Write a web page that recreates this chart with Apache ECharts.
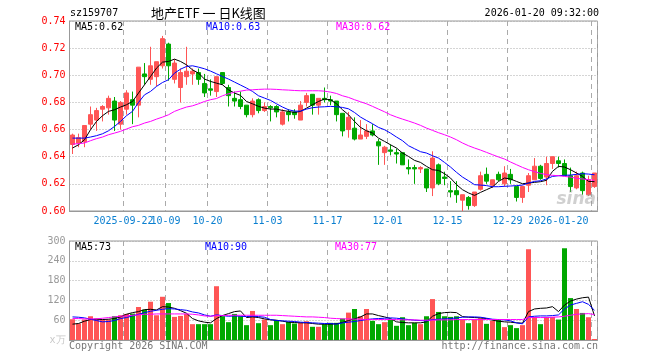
<!DOCTYPE html>
<html><head><meta charset="utf-8">
<script src="https://cdn.jsdelivr.net/npm/echarts@6/dist/echarts.min.js"></script>
<style>html,body{margin:0;padding:0;background:#fff}#c{width:660px;height:360px}</style>
</head><body><div id="c"></div>
<script>
// ---- data ----
const dates = [
 '2025-09-09','2025-09-10','2025-09-11','2025-09-12','2025-09-15','2025-09-16','2025-09-17','2025-09-18','2025-09-19','2025-09-22',
 '2025-09-23','2025-09-24','2025-09-25','2025-09-26','2025-09-29','2025-09-30','2025-10-09','2025-10-10','2025-10-13','2025-10-14',
 '2025-10-15','2025-10-16','2025-10-17','2025-10-20','2025-10-21','2025-10-22','2025-10-23','2025-10-24','2025-10-27','2025-10-28',
 '2025-10-29','2025-10-30','2025-10-31','2025-11-03','2025-11-04','2025-11-05','2025-11-06','2025-11-07','2025-11-10','2025-11-11',
 '2025-11-12','2025-11-13','2025-11-14','2025-11-17','2025-11-18','2025-11-19','2025-11-20','2025-11-21','2025-11-24','2025-11-25',
 '2025-11-26','2025-11-27','2025-11-28','2025-12-01','2025-12-02','2025-12-03','2025-12-04','2025-12-05','2025-12-08','2025-12-09',
 '2025-12-10','2025-12-11','2025-12-12','2025-12-15','2025-12-16','2025-12-17','2025-12-18','2025-12-19','2025-12-22','2025-12-23',
 '2025-12-24','2025-12-25','2025-12-26','2025-12-29','2025-12-30','2025-12-31','2026-01-05','2026-01-06','2026-01-07','2026-01-08',
 '2026-01-09','2026-01-12','2026-01-13','2026-01-14','2026-01-15','2026-01-16','2026-01-19','2026-01-20'];
const tickDates  = ['2025-09-22','2025-10-09','2025-10-20','2025-11-03','2025-11-17','2025-12-01','2025-12-15','2025-12-29','2026-01-20'];
const tickLabels = ['2025-09-22','10-09','10-20','11-03','11-17','12-01','12-15','12-29','2026-01-20'];

const open  = [0.649,0.650,0.651,0.664,0.667,0.675,0.676,0.681,0.664,0.675,0.682,0.678,0.701,0.697,0.699,0.707,0.723,0.697,0.691,0.699,
               0.701,0.702,0.694,0.690,0.688,0.702,0.691,0.683,0.682,0.678,0.671,0.682,0.674,0.677,0.677,0.664,0.673,0.673,0.667,0.680,
               0.686,0.678,0.683,0.682,0.681,0.672,0.660,0.661,0.653,0.655,0.659,0.651,0.643,0.645,0.643,0.643,0.632,0.632,0.631,0.631,
               0.617,0.634,0.625,0.615,0.615,0.608,0.610,0.604,0.616,0.627,0.619,0.627,0.620,0.627,0.618,0.610,0.619,0.623,0.633,0.625,
               0.635,0.637,0.635,0.626,0.617,0.628,0.612,0.618];
const close = [0.656,0.654,0.663,0.671,0.674,0.677,0.683,0.667,0.680,0.687,0.678,0.706,0.699,0.707,0.710,0.727,0.707,0.709,0.702,0.703,
               0.703,0.697,0.687,0.689,0.699,0.694,0.685,0.681,0.677,0.671,0.681,0.674,0.677,0.676,0.673,0.673,0.671,0.671,0.678,0.685,
               0.678,0.683,0.682,0.681,0.671,0.659,0.669,0.653,0.656,0.659,0.656,0.648,0.647,0.644,0.642,0.634,0.631,0.631,0.632,0.617,
               0.639,0.620,0.624,0.614,0.612,0.612,0.604,0.614,0.626,0.622,0.623,0.623,0.628,0.623,0.610,0.618,0.626,0.633,0.624,0.635,
               0.640,0.635,0.626,0.618,0.626,0.615,0.623,0.628];
const low   = [0.642,0.647,0.647,0.660,0.659,0.666,0.671,0.659,0.660,0.671,0.664,0.669,0.693,0.693,0.692,0.705,0.696,0.694,0.680,0.693,
               0.693,0.693,0.684,0.685,0.684,0.693,0.677,0.677,0.675,0.669,0.669,0.672,0.673,0.666,0.669,0.663,0.666,0.668,0.667,0.677,
               0.671,0.671,0.680,0.678,0.666,0.655,0.654,0.652,0.653,0.653,0.655,0.634,0.634,0.641,0.635,0.634,0.627,0.620,0.628,0.614,
               0.611,0.619,0.619,0.610,0.606,0.600,0.601,0.603,0.615,0.620,0.617,0.622,0.618,0.620,0.607,0.606,0.614,0.623,0.623,0.619,
               0.631,0.632,0.626,0.614,0.616,0.612,0.611,0.617];
const high  = [0.657,0.657,0.663,0.677,0.676,0.678,0.685,0.684,0.681,0.689,0.688,0.706,0.709,0.721,0.710,0.729,0.724,0.712,0.705,0.721,
               0.705,0.705,0.701,0.697,0.699,0.702,0.693,0.688,0.688,0.678,0.683,0.683,0.680,0.678,0.678,0.675,0.675,0.675,0.681,0.687,
               0.686,0.683,0.691,0.685,0.681,0.672,0.673,0.669,0.667,0.664,0.664,0.653,0.648,0.649,0.646,0.643,0.638,0.634,0.633,0.631,
               0.644,0.635,0.629,0.622,0.622,0.612,0.611,0.614,0.629,0.632,0.623,0.629,0.633,0.631,0.618,0.618,0.628,0.639,0.634,0.640,
               0.640,0.640,0.638,0.632,0.629,0.629,0.626,0.628];

const ma5  = [0.6464,0.6488,0.6525,0.6599,0.6660,0.6702,0.6734,0.6746,0.6766,0.6783,0.6807,0.6869,0.6930,0.6991,0.7053,0.7097,0.7102,0.7119,0.7102,0.7077,
              0.7040,0.7016,0.6972,0.6955,0.6942,0.6930,0.6893,0.6869,0.6852,0.6807,0.6790,0.6771,0.6758,0.6751,0.6751,0.6741,0.6734,0.6726,0.6734,0.6758,
              0.6783,0.6807,0.6825,0.6820,0.6790,0.6746,0.6709,0.6660,0.6616,0.6591,0.6574,0.6537,0.6513,0.6488,0.6464,0.6427,0.6402,0.6373,0.6358,0.6329,
              0.6304,0.6299,0.6275,0.6243,0.6194,0.6157,0.6133,0.6115,0.6137,0.6157,0.6177,0.6218,0.6243,0.6236,0.6218,0.6201,0.6206,0.6211,0.6216,0.6226,
              0.6292,0.6329,0.6324,0.6304,0.6280,0.6255,0.6218,0.6216];
const ma10 = [0.6537,0.6537,0.6537,0.6545,0.6555,0.6569,0.6591,0.6623,0.6660,0.6702,0.6734,0.6800,0.6856,0.6881,0.6918,0.6947,0.6967,0.7016,0.7045,0.7065,
              0.7070,0.7060,0.7048,0.7031,0.7011,0.6991,0.6972,0.6950,0.6928,0.6906,0.6881,0.6849,0.6832,0.6815,0.6790,0.6766,0.6746,0.6736,0.6736,0.6751,
              0.6761,0.6766,0.6768,0.6771,0.6768,0.6763,0.6753,0.6726,0.6692,0.6667,0.6643,0.6616,0.6599,0.6574,0.6545,0.6518,0.6481,0.6459,0.6437,0.6427,
              0.6407,0.6390,0.6358,0.6324,0.6285,0.6250,0.6223,0.6194,0.6191,0.6187,0.6179,0.6179,0.6182,0.6184,0.6187,0.6191,0.6206,0.6218,0.6223,0.6236,
              0.6255,0.6260,0.6263,0.6265,0.6270,0.6275,0.6272,0.6267];
const ma30 = [0.6493,0.6496,0.6501,0.6518,0.6533,0.6545,0.6562,0.6574,0.6587,0.6604,0.6621,0.6631,0.6648,0.6660,0.6677,0.6692,0.6709,0.6734,0.6751,0.6766,
              0.6775,0.6790,0.6807,0.6820,0.6829,0.6849,0.6864,0.6876,0.6883,0.6891,0.6893,0.6896,0.6898,0.6898,0.6896,0.6893,0.6891,0.6888,0.6886,0.6886,
              0.6886,0.6886,0.6883,0.6876,0.6866,0.6849,0.6837,0.6820,0.6805,0.6790,0.6771,0.6751,0.6731,0.6709,0.6692,0.6677,0.6663,0.6648,0.6631,0.6611,
              0.6594,0.6577,0.6562,0.6545,0.6525,0.6501,0.6481,0.6464,0.6449,0.6432,0.6415,0.6398,0.6383,0.6361,0.6341,0.6321,0.6304,0.6290,0.6277,0.6268,
              0.6263,0.6260,0.6255,0.6250,0.6241,0.6236,0.6231,0.6226];

const volume = [63,50,62,72,65,62,62,72,75,79,80,100,92,116,75,131,112,70,73,79,
                48,48,48,48,163,72,54,79,72,45,88,51,62,45,60,48,55,50,53,57,
                40,40,48,52,52,65,83,94,72,94,58,48,54,62,43,69,45,52,48,72,
                124,85,72,70,72,63,51,63,66,49,58,62,39,45,36,45,275,70,48,70,
                70,62,278,127,94,82,69,3];
const volMa5  = [48,50,57,62,63,62,63,65,70,78,83,86,92,93,91,101,100,96,89,81,
                 65,58,54,52,65,74,80,86,88,68,70,68,64,61,60,57,54,53,52,52,
                 50,48,48,48,49,53,59,64,70,79,79,74,70,65,55,53,52,52,52,55,
                 72,80,83,84,83,71,69,68,67,65,60,57,55,54,52,51,86,94,96,97,
                 101,86,106,118,124,128,130,73];
const volMa10 = [70,69,67,63,59,55,56,59,65,68,73,78,83,87,90,93,95,94,92,90,
                 85,82,76,72,76,74,72,73,72,71,72,71,69,62,59,58,57,56,54,53,
                 52,51,50,50,48,52,54,56,59,62,64,65,66,67,66,64,62,60,59,58,
                 62,63,64,65,67,69,70,70,69,66,63,62,61,58,52,49,70,72,73,73,
                 74,76,94,106,111,116,108,90];
const volMa30 = [65,65,64,64,64,66,68,70,72,73,75,76,78,78,79,79,79,79,79,79,
                 78,76,73,72,74,74,75,75,75,75,75,75,75,75,75,74,73,72,71,70,
                 70,69,68,66,65,64,64,63,63,62,62,62,62,62,62,61,61,61,60,60,
                 60,61,61,61,62,62,62,62,62,62,62,62,62,62,62,62,68,68,68,68,
                 69,70,72,75,78,79,80,77];

// ---- styling ----
const RED = '#ff5555', GREEN = '#00a800', GRIDC = '#aaaaaa', BORDER = '#999999';
const MONO = '"DejaVu Sans Mono", "Liberation Mono", monospace';
const L = 69.5, R = 62.5;

const candleData = dates.map((d, i) => [open[i], close[i], low[i], high[i]]);
const volData = dates.map((d, i) => ({
  value: volume[i],
  itemStyle: { color: close[i] >= open[i] ? RED : GREEN }
}));
const isTick = (idx, val) => tickDates.indexOf(val) >= 0;
const isFirstTick = (idx, val) => val === tickDates[0];
const isLaterTick = (idx, val) => tickDates.indexOf(val) > 0;
const labelOf = v => tickLabels[tickDates.indexOf(v)];
const last = a => a[a.length - 1];

const xLabelBase = { hideOverlap: false, color: '#0a7fd0', fontFamily: MONO, fontSize: 10, margin: 5,
                     padding: [0, 6, 0, 0], formatter: labelOf };

const chart = echarts.init(document.getElementById('c'), null, { renderer: 'canvas' });
chart.setOption({
  animation: false,
  backgroundColor: '#fff',
  grid: [
    { left: L, right: R, top: 21, height: 190, show: true, borderColor: BORDER, borderWidth: 1 },
    { left: L, right: R, top: 241, height: 99, show: true, borderColor: BORDER, borderWidth: 1 }
  ],
  xAxis: [
    { type: 'category', gridIndex: 0, position: 'bottom', data: dates, boundaryGap: true,
      axisLine: { show: true, lineStyle: { color: BORDER, width: 1 } },
      axisTick: { show: false },
      axisLabel: Object.assign({}, xLabelBase, { interval: isLaterTick, showMinLabel: true, showMaxLabel: true, alignMaxLabel: 'right' }),
      splitLine: { show: true, interval: isTick, lineStyle: { color: GRIDC, type: [5, 4], width: 1 } } },
    { type: 'category', gridIndex: 1, data: dates, boundaryGap: true,
      axisLine: { show: true, lineStyle: { color: BORDER, width: 1 } },
      axisTick: { show: false }, axisLabel: { show: false },
      splitLine: { show: true, interval: isTick, lineStyle: { color: GRIDC, type: [5, 4], width: 1 } } },
    { type: 'category', gridIndex: 0, position: 'bottom', data: dates, boundaryGap: true,
      axisLine: { show: false }, axisTick: { show: false }, splitLine: { show: false },
      axisLabel: Object.assign({}, xLabelBase, { interval: isFirstTick, showMinLabel: true }) }
  ],
  yAxis: [
    { type: 'value', gridIndex: 0, min: 0.60, max: 0.74, interval: 0.02,
      axisLine: { show: true, lineStyle: { color: BORDER } }, axisTick: { show: false },
      axisLabel: { color: '#ff0000', fontFamily: MONO, fontSize: 10, margin: 4, formatter: v => v.toFixed(2) },
      splitLine: { show: true, lineStyle: { color: GRIDC, type: [1, 2], width: 1 } } },
    { type: 'value', gridIndex: 1, min: 0, max: 300, interval: 60,
      axisLine: { show: true, lineStyle: { color: BORDER } }, axisTick: { show: false },
      axisLabel: { color: '#999999', fontFamily: MONO, fontSize: 10, margin: 4,
        formatter: v => v === 0 ? '{u|x万}' : String(v),
        rich: { u: { color: '#c8c8c8', fontFamily: MONO, fontSize: 10 } } },
      splitLine: { show: true, lineStyle: { color: GRIDC, type: [1, 2], width: 1 } } }
  ],
  series: [
    { type: 'candlestick', xAxisIndex: 0, yAxisIndex: 0, data: candleData, barWidth: 5,
      itemStyle: { color: RED, color0: GREEN, borderColor: RED, borderColor0: GREEN, borderWidth: 1 } },
    { type: 'line', xAxisIndex: 0, yAxisIndex: 0, data: ma5, symbol: 'none', z: 5, lineStyle: { color: '#000', width: 1 } },
    { type: 'line', xAxisIndex: 0, yAxisIndex: 0, data: ma10, symbol: 'none', z: 5, lineStyle: { color: '#0000ff', width: 1 } },
    { type: 'line', xAxisIndex: 0, yAxisIndex: 0, data: ma30, symbol: 'none', z: 5, lineStyle: { color: '#ff00ff', width: 1 } },
    { type: 'bar', xAxisIndex: 1, yAxisIndex: 1, data: volData, barWidth: 5 },
    { type: 'line', xAxisIndex: 1, yAxisIndex: 1, data: volMa5, symbol: 'none', z: 5, lineStyle: { color: '#000', width: 1 } },
    { type: 'line', xAxisIndex: 1, yAxisIndex: 1, data: volMa10, symbol: 'none', z: 5, lineStyle: { color: '#0000ff', width: 1 } },
    { type: 'line', xAxisIndex: 1, yAxisIndex: 1, data: volMa30, symbol: 'none', z: 5, lineStyle: { color: '#ff00ff', width: 1 } }
  ],
  graphic: [
    { type: 'text', z: 100, style: { x: 70, y: 13, text: 'sz159707', font: '10px ' + MONO, fill: '#000', verticalAlign: 'middle' } },
    { type: 'text', z: 100, style: { x: 151, y: 13, text: '地产ETF 一 日K线图', font: '13px "Noto Sans CJK SC"', fill: '#000', verticalAlign: 'middle' } },
    { type: 'text', z: 100, style: { x: 599, y: 13, text: '2026-01-20 09:32:00', font: '10px ' + MONO, fill: '#000', align: 'right', verticalAlign: 'middle' } },
    { type: 'text', z: 100, style: { x: 75, y: 27, text: 'MA5:' + last(ma5).toFixed(2), font: '10px ' + MONO, fill: '#000', verticalAlign: 'middle' } },
    { type: 'text', z: 100, style: { x: 206, y: 27, text: 'MA10:' + last(ma10).toFixed(2), font: '10px ' + MONO, fill: '#0000ff', verticalAlign: 'middle' } },
    { type: 'text', z: 100, style: { x: 336, y: 27, text: 'MA30:' + last(ma30).toFixed(2), font: '10px ' + MONO, fill: '#ff00ff', verticalAlign: 'middle' } },
    { type: 'text', z: 100, style: { x: 75, y: 247, text: 'MA5:' + last(volMa5), font: '10px ' + MONO, fill: '#000', verticalAlign: 'middle' } },
    { type: 'text', z: 100, style: { x: 205, y: 247, text: 'MA10:' + last(volMa10), font: '10px ' + MONO, fill: '#0000ff', verticalAlign: 'middle' } },
    { type: 'text', z: 100, style: { x: 335, y: 247, text: 'MA30:' + last(volMa30), font: '10px ' + MONO, fill: '#ff00ff', verticalAlign: 'middle' } },
    { type: 'text', z: 100, style: { x: 69, y: 346, text: 'Copyright 2026 SINA.COM', font: '10px ' + MONO, fill: '#777', verticalAlign: 'middle' } },
    { type: 'text', z: 100, style: { x: 598, y: 346, text: 'http://finance.sina.com.cn', font: '10px ' + MONO, fill: '#777', align: 'right', verticalAlign: 'middle' } },
    { type: 'text', z: 100, style: { x: 596, y: 200, text: 'sina', font: 'italic bold 17px "DejaVu Sans"', fill: 'rgba(150,150,150,0.45)', align: 'right', verticalAlign: 'middle' } }
  ]
});
</script></body></html>
